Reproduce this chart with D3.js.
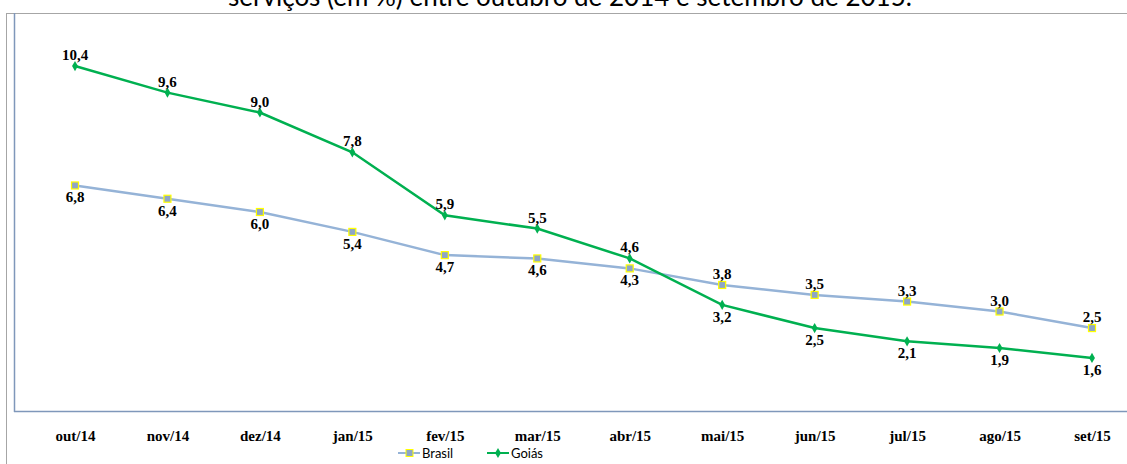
<!DOCTYPE html>
<html>
<head>
<meta charset="utf-8">
<script src="https://cdn.jsdelivr.net/npm/d3@7"></script>
<style>
  body { margin: 0; background: #fff; }
  svg { display: block; }
</style>
</head>
<body>
<div id="chart"></div>
<script>
// DATA
const months = ["out/14", "nov/14", "dez/14", "jan/15", "fev/15", "mar/15", "abr/15", "mai/15", "jun/15", "jul/15", "ago/15", "set/15"];
const brasil = [6.8, 6.4, 6.0, 5.4, 4.7, 4.6, 4.3, 3.8, 3.5, 3.3, 3.0, 2.5];
const goias = [10.4, 9.6, 9.0, 7.8, 5.9, 5.5, 4.6, 3.2, 2.5, 2.1, 1.9, 1.6];
// label above (true) or below (false) the point
const brasilAbove = [false, false, false, false, false, false, false, true, true, true, true, true];
const goiasAbove = [true, true, true, true, true, true, true, false, false, false, false, false];
const titleText = "serviços (em %) entre outubro de 2014 e setembro de 2015.";

const W = 1127, H = 464;
const svg = d3.select("#chart").append("svg").attr("width", W).attr("height", H);

const margin = { top: 13, left: 14, bottom: 411 },
  green = "#00B050",
  lineBlue = "#95B3D7",
  markBlue = "#8EA6C6",
  axisBlue = "#7F97BA";

// outer frame (chart border)
svg.append("line").attr("x1", 6.5).attr("x2", 6.5).attr("y1", 13).attr("y2", H)
  .attr("stroke", "#A6A6A6").attr("stroke-width", 1);
svg.append("line").attr("x1", 6).attr("x2", W).attr("y1", 13.5).attr("y2", 13.5)
  .attr("stroke", "#A6A6A6").attr("stroke-width", 1);

// title (cut at top, as in the source image)
svg.append("text").attr("x", 570).attr("y", 6)
  .attr("text-anchor", "middle")
  .style("font-family", "Lato, 'Open Sans', sans-serif")
  .style("font-size", "26px")
  .attr("fill", "#000")
  .text(titleText);

// SCALES
const x = d3.scalePoint().domain(months).range([75, 1092]);
const y = d3.scaleLinear().domain([0, 12]).range([margin.bottom, margin.top]);

// axes lines
svg.append("line").attr("x1", margin.left + 0.5).attr("x2", margin.left + 0.5)
  .attr("y1", margin.top).attr("y2", margin.bottom + 1)
  .attr("stroke", axisBlue).attr("stroke-width", 1.5);
svg.append("line").attr("x1", margin.left).attr("x2", W)
  .attr("y1", margin.bottom + 0.5).attr("y2", margin.bottom + 0.5)
  .attr("stroke", axisBlue).attr("stroke-width", 1.5);

// x tick labels
const xAxis = d3.axisBottom(x).tickSize(0).tickPadding(0);
const gx = svg.append("g").attr("transform", "translate(0,436)").call(xAxis);
gx.select(".domain").remove();
gx.selectAll("text")
  .attr("dy", "0.35em")
  .style("font-family", "'Liberation Serif', 'Times New Roman', serif")
  .style("font-size", "15px")
  .style("font-weight", "bold")
  .attr("fill", "#000");

const line = d3.line().x((d, i) => x(months[i])).y(d => y(d));

// Brasil series
svg.append("path").datum(brasil).attr("d", line)
  .attr("fill", "none").attr("stroke", lineBlue).attr("stroke-width", 2.5);
svg.append("g").selectAll("rect").data(brasil).enter().append("rect")
  .attr("x", (d, i) => x(months[i]) - 3.5)
  .attr("y", d => y(d) - 3.5)
  .attr("width", 7).attr("height", 7)
  .attr("fill", markBlue).attr("stroke", "#FFFF00").attr("stroke-width", 1.2);

// Goiás series
svg.append("path").datum(goias).attr("d", line)
  .attr("fill", "none").attr("stroke", green).attr("stroke-width", 2.5);
const diamond = d3.symbol().type(d3.symbolDiamond).size(30);
svg.append("g").selectAll("path").data(goias).enter().append("path")
  .attr("d", diamond)
  .attr("transform", (d, i) => "translate(" + x(months[i]) + "," + y(d) + ")")
  .attr("fill", green);

// data labels
function addLabels(vals, above) {
  svg.append("g").selectAll("text").data(vals).enter().append("text")
    .attr("x", (d, i) => x(months[i]))
    .attr("y", (d, i) => above[i] ? y(d) - 6 : y(d) + 17)
    .attr("text-anchor", "middle")
    .style("font-family", "'Liberation Serif', 'Times New Roman', serif")
    .style("font-size", "15px")
    .style("font-weight", "bold")
    .attr("fill", "#000")
    .text(d => d.toFixed(1).replace(".", ","));
}
addLabels(brasil, brasilAbove);
addLabels(goias, goiasAbove);

// legend
const legend = [
  { name: "Brasil", color: lineBlue, x: 398 },
  { name: "Goiás", color: green, x: 487 }
];
const lg = svg.append("g").attr("transform", "translate(0,453)");
legend.forEach((l, k) => {
  lg.append("line").attr("x1", l.x).attr("x2", l.x + 22).attr("y1", 0).attr("y2", 0)
    .attr("stroke", l.color).attr("stroke-width", 2);
  if (k === 0) {
    lg.append("rect").attr("x", l.x + 8).attr("y", -3.5).attr("width", 7).attr("height", 7)
      .attr("fill", markBlue).attr("stroke", "#FFFF00").attr("stroke-width", 1);
  } else {
    lg.append("path").attr("d", diamond).attr("transform", "translate(" + (l.x + 11) + ",0)")
      .attr("fill", green);
  }
  lg.append("text").attr("x", l.x + 24).attr("y", 0).attr("dy", "0.35em")
    .style("font-family", "Lato, 'Open Sans', sans-serif")
    .style("font-size", "13px")
    .attr("fill", "#000")
    .text(l.name);
});
</script>
</body>
</html>
